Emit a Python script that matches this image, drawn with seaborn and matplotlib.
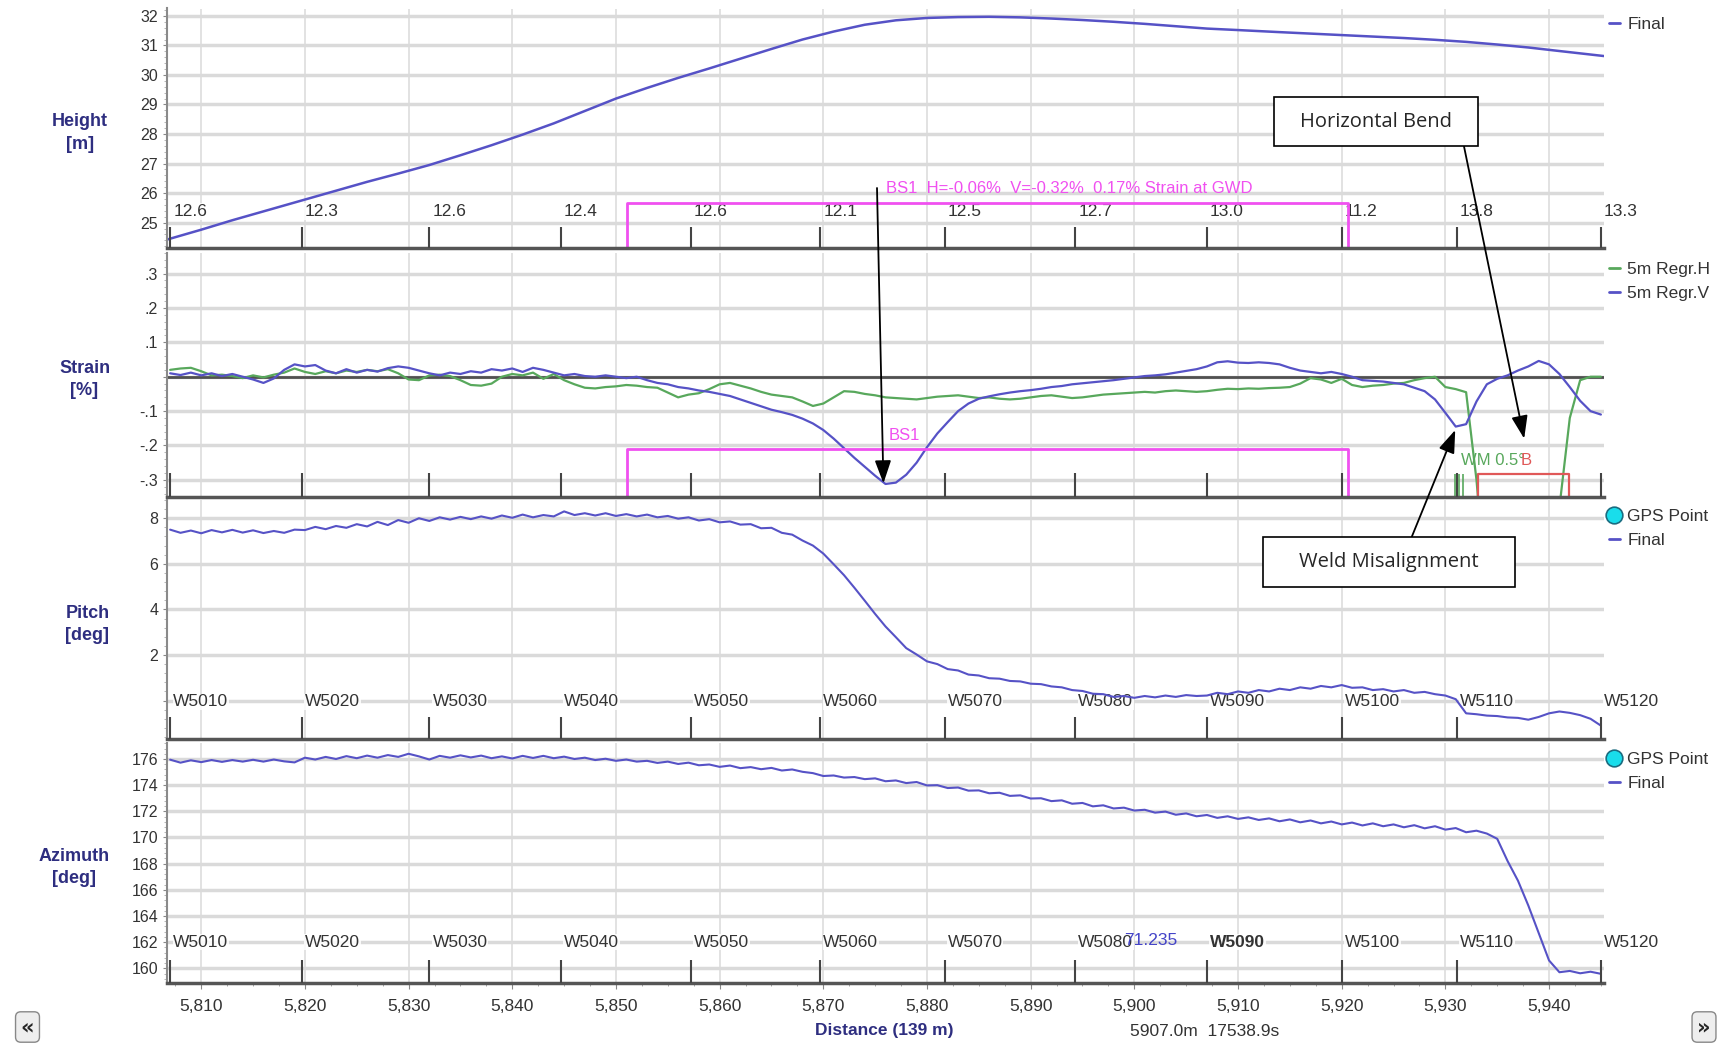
import numpy as np
import seaborn as sns
import matplotlib.pyplot as plt
from matplotlib.lines import Line2D
from matplotlib.patches import Rectangle
from matplotlib.ticker import MultipleLocator, AutoMinorLocator, FuncFormatter


# sampled along the pipe, one value per metre (5807 .. 5945)
distance = np.arange(5807, 5946)

height_dist = [5806.65, 5810, 5813, 5816, 5820, 5823, 5826, 5829, 5832, 5835, 5838, 5841,
               5844, 5847, 5850, 5853, 5856, 5859, 5862, 5865, 5868, 5871, 5874, 5877,
               5880, 5883, 5886, 5889, 5892, 5895, 5898, 5901, 5904, 5907, 5910, 5914,
               5917, 5920, 5923, 5926, 5929, 5932, 5935, 5938, 5941, 5945.3]
height = [24.42, 24.76, 25.08, 25.38, 25.78, 26.08, 26.38, 26.66, 26.95, 27.28, 27.62, 27.98,
          28.36, 28.78, 29.2, 29.56, 29.9, 30.22, 30.55, 30.88, 31.2, 31.47, 31.7, 31.85,
          31.93, 31.96, 31.97, 31.95, 31.91, 31.86, 31.80, 31.73, 31.65, 31.57, 31.52, 31.45,
          31.40, 31.35, 31.30, 31.25, 31.19, 31.12, 31.03, 30.93, 30.81, 30.64]

strain_v = [
    0.010, 0.005, 0.012, 0.004, 0.010, 0.002, 0.008, 0.000, -0.008, -0.018,
    -0.005, 0.020, 0.036, 0.030, 0.034, 0.018, 0.010, 0.022, 0.012, 0.020,
    0.015, 0.025, 0.030, 0.026, 0.018, 0.010, 0.004, 0.012, 0.008, 0.016,
    0.012, 0.022, 0.018, 0.024, 0.014, 0.026, 0.020, 0.012, 0.004, 0.008,
    0.002, 0.000, 0.004, 0.000, -0.004, 0.000, -0.010, -0.018, -0.022, -0.030,
    -0.034, -0.040, -0.044, -0.050, -0.056, -0.066, -0.076, -0.086, -0.096, -0.103,
    -0.111, -0.122, -0.136, -0.155, -0.180, -0.208, -0.236, -0.262, -0.288, -0.312,
    -0.308, -0.285, -0.250, -0.205, -0.165, -0.132, -0.100, -0.078, -0.064, -0.057,
    -0.051, -0.046, -0.042, -0.039, -0.035, -0.030, -0.027, -0.022, -0.019, -0.016,
    -0.013, -0.010, -0.006, -0.002, 0.002, 0.004, 0.007, 0.012, 0.017, 0.022,
    0.030, 0.042, 0.045, 0.041, 0.040, 0.042, 0.040, 0.036, 0.026, 0.018,
    0.014, 0.010, 0.014, 0.008, 0.000, -0.010, -0.012, -0.014, -0.018, -0.022,
    -0.032, -0.042, -0.066, -0.105, -0.145, -0.138, -0.072, -0.022, -0.006, 0.004,
    0.018, 0.030, 0.046, 0.036, 0.008, -0.030, -0.070, -0.100, -0.110]

strain_h = [
    0.020, 0.024, 0.026, 0.016, 0.004, 0.006, 0.002, -0.004, 0.004, -0.002,
    0.006, 0.012, 0.024, 0.014, 0.008, 0.016, 0.010, 0.018, 0.014, 0.020,
    0.016, 0.022, 0.010, -0.008, -0.010, 0.004, 0.006, 0.002, -0.010, -0.024,
    -0.026, -0.020, 0.000, 0.008, 0.004, 0.012, -0.006, 0.008, -0.010, -0.022,
    -0.032, -0.034, -0.030, -0.028, -0.024, -0.026, -0.030, -0.032, -0.046, -0.060,
    -0.052, -0.048, -0.036, -0.022, -0.018, -0.026, -0.034, -0.044, -0.052, -0.056,
    -0.060, -0.072, -0.085, -0.078, -0.060, -0.042, -0.044, -0.050, -0.054, -0.060,
    -0.062, -0.064, -0.066, -0.062, -0.058, -0.056, -0.054, -0.058, -0.062, -0.060,
    -0.064, -0.066, -0.064, -0.060, -0.056, -0.054, -0.058, -0.062, -0.060, -0.056,
    -0.052, -0.050, -0.048, -0.046, -0.044, -0.046, -0.042, -0.040, -0.042, -0.044,
    -0.042, -0.038, -0.035, -0.036, -0.034, -0.035, -0.033, -0.032, -0.030, -0.020,
    -0.004, -0.008, -0.018, -0.006, -0.024, -0.030, -0.026, -0.024, -0.020, -0.018,
    -0.010, -0.004, 0.000, -0.030, -0.036, -0.045, -0.300, -0.650, -0.650, -0.650,
    -0.650, -0.650, -0.650, -0.650, -0.380, -0.120, -0.010, 0.000, 0.000]

pitch = [
    7.50, 7.36, 7.46, 7.34, 7.48, 7.38, 7.49, 7.37, 7.47, 7.35,
    7.44, 7.36, 7.50, 7.48, 7.62, 7.52, 7.66, 7.58, 7.74, 7.64,
    7.84, 7.70, 7.92, 7.80, 8.00, 7.88, 8.04, 7.94, 8.06, 7.96,
    8.08, 7.98, 8.12, 8.02, 8.16, 8.04, 8.14, 8.08, 8.30, 8.14,
    8.22, 8.12, 8.22, 8.10, 8.18, 8.08, 8.16, 8.04, 8.10, 7.98,
    8.04, 7.90, 7.96, 7.82, 7.86, 7.72, 7.74, 7.56, 7.58, 7.36,
    7.28, 7.02, 6.80, 6.45, 5.98, 5.50, 4.95, 4.38, 3.80, 3.25,
    2.78, 2.30, 2.02, 1.72, 1.60, 1.38, 1.32, 1.14, 1.10, 0.98,
    0.96, 0.86, 0.84, 0.74, 0.72, 0.62, 0.58, 0.46, 0.42, 0.30,
    0.28, 0.16, 0.20, 0.12, 0.20, 0.14, 0.22, 0.16, 0.24, 0.20,
    0.22, 0.34, 0.28, 0.40, 0.34, 0.46, 0.40, 0.52, 0.46, 0.58,
    0.52, 0.64, 0.58, 0.68, 0.56, 0.58, 0.46, 0.50, 0.40, 0.46,
    0.34, 0.38, 0.28, 0.22, 0.06, -0.56, -0.60, -0.66, -0.68, -0.74,
    -0.76, -0.84, -0.72, -0.56, -0.48, -0.54, -0.64, -0.80, -1.10]

azimuth = [
    175.95, 175.72, 175.90, 175.76, 175.92, 175.78, 175.92, 175.80, 175.94, 175.80,
    175.96, 175.82, 175.74, 176.10, 175.96, 176.16, 176.00, 176.22, 176.06, 176.26,
    176.10, 176.30, 176.16, 176.40, 176.20, 175.96, 176.24, 176.10, 176.28, 176.12,
    176.26, 176.06, 176.20, 176.04, 176.24, 176.08, 176.24, 176.06, 176.18, 176.00,
    176.10, 175.92, 176.02, 175.86, 175.96, 175.80, 175.86, 175.70, 175.80, 175.62,
    175.72, 175.52, 175.58, 175.40, 175.50, 175.30, 175.38, 175.22, 175.32, 175.12,
    175.20, 175.02, 174.92, 174.70, 174.74, 174.58, 174.62, 174.46, 174.52, 174.30,
    174.36, 174.16, 174.24, 173.98, 174.00, 173.78, 173.82, 173.58, 173.60, 173.38,
    173.42, 173.18, 173.22, 172.98, 173.00, 172.78, 172.84, 172.58, 172.64, 172.38,
    172.46, 172.22, 172.28, 172.06, 172.12, 171.90, 171.98, 171.74, 171.84, 171.62,
    171.72, 171.50, 171.62, 171.42, 171.54, 171.34, 171.46, 171.24, 171.38, 171.16,
    171.30, 171.08, 171.22, 171.00, 171.14, 170.92, 171.08, 170.86, 171.00, 170.78,
    170.94, 170.70, 170.86, 170.60, 170.72, 170.40, 170.52, 170.30, 169.90, 168.20,
    166.70, 164.80, 162.70, 160.60, 159.70, 159.80, 159.62, 159.74, 159.58]

# girth welds and joint lengths
weld_pos = [5807.0, 5819.7, 5832.0, 5844.7, 5857.2, 5869.7, 5881.7, 5894.3,
            5907.0, 5920.0, 5931.1, 5945.0]
weld_names = ['W5010', 'W5020', 'W5030', 'W5040', 'W5050', 'W5060', 'W5070', 'W5080',
              'W5090', 'W5100', 'W5110', 'W5120']
joint_len = ['12.6', '12.3', '12.6', '12.4', '12.6', '12.1', '12.5', '12.7', '13.0',
             '11.2', '13.8', '13.3']

bs1_span = [5851.1, 5920.6]
bend_span = [5933.1, 5941.9]
wm_marks = [5930.9, 5931.3, 5931.7]

FINAL = '#5652C6'
GREEN = '#58A85C'
PINK = '#F050F0'
NAVY = '#2E2E80'
GRID = '#DADADA'

sns.set_style('white')
plt.rcParams['font.family'] = ['Liberation Sans Narrow', 'Liberation Sans', 'DejaVu Sans']

W, H = 1726, 1043
fig = plt.figure(figsize=(W / 100, H / 100), dpi=100)


def px_rect(top, bottom):
    return [166.5 / W, 1 - bottom / H, (1604 - 166.5) / W, (bottom - top) / H]


ax_h = fig.add_axes(px_rect(8.5, 248))
ax_s = fig.add_axes(px_rect(253, 496.7), sharex=ax_h)
ax_p = fig.add_axes(px_rect(500, 739.3), sharex=ax_h)
ax_a = fig.add_axes(px_rect(743.3, 982.7), sharex=ax_h)


def style_panel(ax, ylim, ticks, labels, name, lx):
    ax.set_facecolor('none')
    ax.set_xlim(5806.65, 5945.3)
    ax.set_ylim(*ylim)
    ax.set_yticks(ticks, labels)
    ax.yaxis.set_minor_locator(AutoMinorLocator(5))
    ax.xaxis.set_major_locator(MultipleLocator(10))
    ax.xaxis.set_minor_locator(MultipleLocator(2.5))
    ax.grid(axis='y', which='major', color=GRID, lw=2.5)
    ax.grid(axis='x', which='major', color='#DDDDDD', lw=1.2)
    ax.set_axisbelow(True)
    for s in ['top', 'right']:
        ax.spines[s].set_visible(False)
    ax.spines['left'].set_color('#8A8A8A')
    ax.spines['left'].set_linewidth(1.5)
    ax.spines['bottom'].set_color('#555555')
    ax.spines['bottom'].set_linewidth(2.5)
    ax.tick_params(axis='y', which='major', left=True, length=3, color='#888888',
                   labelsize=11.5, labelcolor='#333333', pad=3)
    ax.tick_params(axis='y', which='minor', left=True, length=2, color='#AAAAAA')
    ax.tick_params(axis='x', which='both', bottom=False, labelbottom=False)
    ax.set_xlabel('')
    ax.set_ylabel(name, rotation=0, color=NAVY, fontweight='bold', fontsize=13,
                  va='center', ha='center', linespacing=1.4)
    ax.yaxis.set_label_coords(lx, 0.48)


def draw_welds(ax, tick_h, labels=None, label_y=0.15, bold=None):
    tr = ax.get_xaxis_transform()
    ax.vlines(weld_pos, 0, tick_h, transform=tr, color='#444444', lw=1.5, zorder=3)
    if labels is None:
        return
    for x, lab in zip(weld_pos, labels):
        ax.text(x + 0.3, label_y, lab, transform=tr, ha='left', va='center', fontsize=12.5,
                color='#333333', fontweight='bold' if lab == bold else 'normal',
                bbox=dict(fc='white', ec='none', pad=0.5, alpha=0.85), zorder=1.5)


def legend(ax, handles, labels):
    ax.legend(handles, labels, loc='upper left', bbox_to_anchor=(1.0, 0.985),
              frameon=False, fontsize=12.5, handlelength=0.6, handletextpad=0.45,
              borderaxespad=0, borderpad=0.3, labelspacing=0.5, labelcolor='#333333')


final_h = Line2D([0], [0], color=FINAL, lw=2)
gps_h = Line2D([0], [0], marker='o', ls='', ms=12, mfc='#19DDEB', mec='#1B6C80', mew=1.2)

# Height
sns.lineplot(x=height_dist, y=height, ax=ax_h, color=FINAL, lw=1.8, sort=False)
style_panel(ax_h, (24.14, 32.25), list(range(25, 33)), [str(v) for v in range(25, 33)],
            'Height\n[m]', -0.060)
draw_welds(ax_h, 0.089, joint_len, 0.152)
tr = ax_h.get_xaxis_transform()
ax_h.plot([bs1_span[0], bs1_span[0], bs1_span[1], bs1_span[1]], [0, 0.189, 0.189, 0],
          transform=tr, color=PINK, lw=2, zorder=2.5)
ax_h.text(5876.05, 0.25, 'BS1  H=-0.06%  V=-0.32%  0.17% Strain at GWD', transform=tr,
          color=PINK, fontsize=12, ha='left', va='center')
legend(ax_h, [final_h], ['Final'])

# Strain
ax_s.axhline(0, color='#505050', lw=2, zorder=1.5)
sns.lineplot(x=distance, y=strain_h, ax=ax_s, color=GREEN, lw=1.6, sort=False)
sns.lineplot(x=distance, y=strain_v, ax=ax_s, color=FINAL, lw=1.6, sort=False)
style_panel(ax_s, (-0.349, 0.36), [-0.3, -0.2, -0.1, 0, 0.1, 0.2, 0.3],
            ['-.3', '-.2', '-.1', '', '.1', '.2', '.3'], 'Strain\n[%]', -0.057)
draw_welds(ax_s, 0.096)
tr = ax_s.get_xaxis_transform()
ax_s.plot([bs1_span[0], bs1_span[0], bs1_span[1], bs1_span[1]], [0, 0.196, 0.196, 0],
          transform=tr, color=PINK, lw=2, zorder=2.5)
ax_s.text(5876.3, 0.253, 'BS1', transform=tr, color=PINK, fontsize=12, ha='left', va='center')
ax_s.plot([bend_span[0], bend_span[0], bend_span[1], bend_span[1]], [0, 0.094, 0.094, 0],
          transform=tr, color='#E05858', lw=1.6, zorder=2.5)
ax_s.vlines(wm_marks, 0, 0.094, transform=tr, color=GREEN, lw=1.2, zorder=2.5)
ax_s.text(5931.5, 0.15, 'WM 0.5°', transform=tr, color=GREEN, fontsize=12,
          ha='left', va='center')
ax_s.text(5937.3, 0.15, 'B', transform=tr, color='#E05858', fontsize=12,
          ha='left', va='center')
legend(ax_s, [Line2D([0], [0], color=GREEN, lw=2), final_h], ['5m Regr.H', '5m Regr.V'])

# Pitch
sns.lineplot(x=distance, y=pitch, ax=ax_p, color=FINAL, lw=1.5, sort=False)
style_panel(ax_p, (-1.7, 8.8), [0, 2, 4, 6, 8], ['', '2', '4', '6', '8'],
            'Pitch\n[deg]', -0.055)
draw_welds(ax_p, 0.094, weld_names, 0.157)
legend(ax_p, [gps_h, final_h], ['GPS Point', 'Final'])

# Azimuth
sns.lineplot(x=distance, y=azimuth, ax=ax_a, color=FINAL, lw=1.5, sort=False)
style_panel(ax_a, (158.9, 177.2), list(range(160, 177, 2)),
            [str(v) for v in range(160, 177, 2)], 'Azimuth\n[deg]', -0.064)
draw_welds(ax_a, 0.095, weld_names, 0.17, bold='W5090')
ax_a.text(5899.0, 0.175, '71.235', transform=ax_a.get_xaxis_transform(), color='#4444C8',
          fontsize=12.5, ha='left', va='center', zorder=5)
legend(ax_a, [gps_h, final_h], ['GPS Point', 'Final'])
ax_a.tick_params(axis='x', which='major', bottom=True, labelbottom=True, length=4,
                 color='#888888', labelsize=12.5, labelcolor='#333333', pad=8)
ax_a.tick_params(axis='x', which='minor', bottom=True, length=2.5, color='#999999')
ax_a.xaxis.set_major_formatter(FuncFormatter(lambda v, _: f'{v:,.0f}'))

fig.text(884 / W, 1 - 1031 / H, 'Distance (139 m)', color=NAVY, fontweight='bold',
         fontsize=12.5, ha='center', va='center')
fig.text(1205 / W, 1 - 1031 / H, '5907.0m  17538.9s', color='#333333', fontsize=12.5,
         ha='center', va='center')
for bx, sym in [(27.5, '«'), (1704, '»')]:
    fig.text(bx / W, 1 - 1027 / H, sym, fontsize=15, fontweight='bold', ha='center',
             va='center', family='DejaVu Sans',
             bbox=dict(boxstyle='round,pad=0.25', fc='#EEEEEE', ec='#888888', lw=1))

# callout boxes
for x0, y0, x1, y1, txt in [(1273.6, 96.9, 1478.4, 146.4, 'Horizontal Bend'),
                            (1262.6, 537, 1515, 587, 'Weld Misalignment')]:
    fig.add_artist(Rectangle((x0 / W, 1 - y1 / H), (x1 - x0) / W, (y1 - y0) / H,
                             transform=fig.transFigure, fc='white', ec='black', lw=1.2,
                             zorder=10))
    fig.text((x0 + x1) / 2 / W, 1 - (y0 + y1) / 2 / H, txt, fontsize=14.5,
             family=['Open Sans', 'DejaVu Sans'], ha='center', va='center', zorder=11)

arrow = dict(arrowstyle='-|>,head_length=0.7,head_width=0.25', color='black', lw=1.3,
             mutation_scale=20, shrinkA=0, shrinkB=0)
ax_a.annotate('', xy=(5875.8, -0.31), xycoords=ax_s.transData,
              xytext=(877 / W, 1 - 188 / H), textcoords='figure fraction',
              arrowprops=arrow, annotation_clip=False)
ax_a.annotate('', xy=(5937.6, -0.18), xycoords=ax_s.transData,
              xytext=(1464 / W, 1 - 146.4 / H), textcoords='figure fraction',
              arrowprops=arrow, annotation_clip=False)
ax_a.annotate('', xy=(5930.95, -0.155), xycoords=ax_s.transData,
              xytext=(1411.7 / W, 1 - 537 / H), textcoords='figure fraction',
              arrowprops=arrow, annotation_clip=False)

fig.savefig('out.png', dpi=100, facecolor='white')
